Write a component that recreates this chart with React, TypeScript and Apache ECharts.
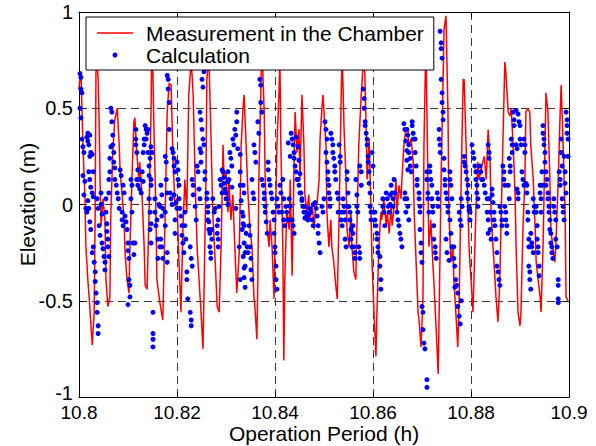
import React, { useEffect, useRef } from "react";
import * as echarts from "echarts";

const FONT = "'Liberation Sans', Arial, Helvetica, sans-serif";

const xTickLabels = ["10.8", "10.82", "10.84", "10.86", "10.88", "10.9"];
const yTickLabels = ["-1", "-0.5", "0", "0.5", "1"];

// Measurement in the Chamber: [time (h), elevation (m)]
const measA: [number, number][] = [
  [10.8000,0.60],[10.8002,0.66],[10.8004,0.69],[10.8008,0.31],[10.8012,0.05],[10.8014,-0.21],[10.8018,-0.39],[10.8022,-0.53],
  [10.8024,-0.61],[10.8027,-0.73],[10.8031,-0.56],[10.8033,-0.04],[10.8035,0.85],[10.8039,0.65],[10.8041,0.44],[10.8043,0.13],
  [10.8045,-0.11],[10.8049,0.03],[10.8053,-0.08],[10.8055,-0.39],[10.8059,-0.53],[10.8063,-0.48],[10.8065,-0.04],[10.8069,0.27],
  [10.8073,0.44],[10.8078,0.50],[10.8082,0.31],[10.8084,0.17],[10.8088,0.05],[10.8092,-0.08],[10.8094,-0.25],[10.8098,-0.39],
  [10.8102,-0.46],[10.8104,-0.22],[10.8108,0.13],[10.8112,0.43],[10.8114,0.45],[10.8118,0.27],[10.8122,0.13],[10.8124,0.22],
  [10.8129,0.03],[10.8133,-0.22],[10.8135,-0.42],[10.8139,-0.44],[10.8143,-0.04],[10.8147,0.48],[10.8149,0.92],[10.8153,0.39],
  [10.8157,-0.04],[10.8159,-0.39],[10.8165,-0.51]
];
const measB: [number, number][] = [
  [10.8171,-0.60],[10.8176,-0.04],[10.8180,0.48],[10.8184,0.63],[10.8188,0.62],[10.8192,0.22],[10.8196,-0.01],[10.8200,0.03],
  [10.8204,-0.30],[10.8208,-0.56],[10.8212,-0.13],[10.8216,0.13],[10.8220,-0.04],[10.8224,0.57],[10.8229,0.75],[10.8233,0.57],
  [10.8237,0.13],[10.8241,-0.22],[10.8245,-0.39],[10.8249,-0.56],[10.8253,-0.75],[10.8255,-0.48],[10.8259,0.13],[10.8261,0.65],
  [10.8265,0.78],[10.8269,0.39],[10.8273,-0.04],[10.8278,-0.30],[10.8282,-0.53],[10.8286,-0.56],[10.8290,-0.22],[10.8294,0.31],
  [10.8296,0.13],[10.8300,0.17],[10.8304,-0.04],[10.8306,0.13],[10.8310,-0.08],[10.8314,0.05],[10.8318,-0.22],[10.8322,-0.46],
  [10.8327,-0.25],[10.8331,0.31],[10.8335,0.51]
];
const measC: [number, number][] = [
  [10.8337,0.57],[10.8341,0.31],[10.8345,0.05],[10.8349,-0.13],[10.8353,-0.22],[10.8357,-0.48],[10.8359,-0.53],[10.8363,-0.70],
  [10.8365,-0.39],[10.8367,0.13],[10.8371,0.57],[10.8373,0.85],[10.8378,0.48],[10.8380,0.13],[10.8384,-0.13],[10.8388,-0.22],
  [10.8390,-0.08],[10.8394,-0.22],[10.8398,-0.49],[10.8400,-0.22],[10.8404,0.31],[10.8408,0.57],[10.8410,0.75],[10.8412,0.31],
  [10.8416,-0.22],[10.8418,-0.81],[10.8420,-0.39],[10.8424,-0.04],[10.8429,-0.13],[10.8431,0.13],[10.8435,-0.37],[10.8439,0.22],
  [10.8441,0.48],[10.8445,0.27],[10.8449,0.39],[10.8451,0.13],[10.8455,0.57],[10.8459,0.31],[10.8461,0.05],[10.8465,-0.04],
  [10.8469,0.05],[10.8471,-0.08],[10.8476,0.00],[10.8480,-0.13],[10.8482,-0.04],[10.8486,0.01],[10.8490,0.13],[10.8492,0.34],
  [10.8496,0.51],[10.8498,0.57],[10.8500,0.48]
];
const measD: [number, number][] = [
  [10.8504,0.31],[10.8506,-0.04],[10.8510,-0.22],[10.8514,-0.08],[10.8516,-0.22],[10.8520,-0.30],[10.8524,-0.42],[10.8527,-0.49],
  [10.8531,-0.04],[10.8535,0.55],[10.8537,0.80],[10.8541,0.39],[10.8545,0.13],[10.8547,-0.13],[10.8551,-0.22],[10.8555,-0.04],
  [10.8557,-0.22],[10.8561,-0.35],[10.8565,-0.39],[10.8567,-0.13],[10.8571,0.31],[10.8576,0.57],[10.8578,0.65],[10.8582,0.82],
  [10.8586,0.39],[10.8588,0.13],[10.8592,0.34],[10.8596,-0.04],[10.8598,-0.30],[10.8602,-0.56],[10.8606,-0.79],[10.8608,-0.56],
  [10.8612,-0.22],[10.8616,-0.04],[10.8618,-0.08],[10.8622,0.03],[10.8627,-0.11],[10.8629,-0.04],[10.8633,-0.15],[10.8637,-0.01],
  [10.8639,-0.11],[10.8643,-0.01],[10.8647,0.13],[10.8649,-0.04],[10.8653,0.10],[10.8657,0.03],[10.8659,0.13],[10.8663,0.31],
  [10.8667,0.39]
];
const measE: [number, number][] = [
  [10.8671,0.40],[10.8673,0.31],[10.8678,0.34],[10.8682,0.22],[10.8684,-0.04],[10.8688,-0.30],[10.8692,-0.56],[10.8694,-0.60],
  [10.8698,-0.74],[10.8702,-0.48],[10.8704,0.31],[10.8708,0.85],[10.8712,0.13],[10.8714,-0.22],[10.8718,-0.08],[10.8722,-0.30],
  [10.8724,-0.39],[10.8729,-0.65],[10.8733,-0.88],[10.8735,-0.56],[10.8739,0.13],[10.8743,0.65],[10.8745,0.91],[10.8749,0.98],
  [10.8753,0.48],[10.8755,-0.04],[10.8759,-0.30],[10.8763,-0.22],[10.8765,-0.39],[10.8769,-0.56],[10.8773,-0.74],[10.8776,-0.48],
  [10.8780,0.13],[10.8784,0.65],[10.8786,0.65],[10.8790,0.31],[10.8794,-0.04],[10.8796,-0.22],[10.8800,-0.39],[10.8804,-0.56],
  [10.8806,-0.39],[10.8810,-0.04],[10.8814,0.22],[10.8816,0.13],[10.8820,0.17],[10.8824,0.22],[10.8827,0.25],[10.8831,0.13],
  [10.8835,0.39]
];
const measF: [number, number][] = [
  [10.8839,0.22],[10.8841,-0.04],[10.8845,-0.22],[10.8849,-0.39],[10.8851,-0.48],[10.8855,-0.61],[10.8859,-0.39],[10.8861,-0.13],
  [10.8865,0.31],[10.8869,0.74],[10.8871,0.69],[10.8876,0.48],[10.8880,0.46],[10.8882,0.50],[10.8886,0.31],[10.8890,0.05],
  [10.8892,-0.22],[10.8896,-0.56],[10.8900,-0.63],[10.8902,-0.56],[10.8906,-0.13],[10.8910,0.13],[10.8912,0.48],[10.8916,0.50],
  [10.8920,0.48],[10.8922,0.31],[10.8927,0.13],[10.8931,-0.13],[10.8933,-0.30],[10.8937,-0.39],[10.8941,-0.48],[10.8943,-0.56],
  [10.8947,-0.22],[10.8951,0.31],[10.8953,0.58],[10.8957,0.48],[10.8961,0.13],[10.8963,-0.13],[10.8967,-0.22],[10.8971,-0.30],
  [10.8973,-0.22],[10.8978,0.13],[10.8982,0.48],[10.8984,0.62],[10.8988,0.31],[10.8992,-0.04],[10.8994,-0.48],[10.8998,-0.50]
];

// Calculation: [time (h), elevation (m)]
const calcA: [number, number][] = [
  [10.8002,0.68],[10.8004,0.66],[10.8004,0.60],[10.8006,0.58],[10.8002,0.50],[10.8004,0.45],[10.8006,0.34],[10.8008,0.30],
  [10.8010,0.27],[10.8008,0.15],[10.8010,0.05],[10.8012,0.12],[10.8014,-0.02],[10.8016,-0.04],[10.8016,0.35],[10.8018,0.37],
  [10.8018,0.33],[10.8020,0.31],[10.8022,0.36],[10.8022,0.25],[10.8024,0.27],[10.8027,0.26],[10.8020,0.17],[10.8022,0.13],
  [10.8024,0.09],[10.8018,0.02],[10.8020,-0.02],[10.8022,-0.09],[10.8024,-0.13],[10.8027,0.06],[10.8029,0.04],[10.8029,0.17],
  [10.8029,-0.22],[10.8027,-0.25],[10.8031,-0.30],[10.8033,-0.35],[10.8033,-0.40],[10.8035,-0.46],[10.8037,-0.51],[10.8037,-0.56],
  [10.8039,-0.63],[10.8039,-0.67],[10.8037,0.03],[10.8039,-0.02],[10.8041,-0.11],[10.8043,-0.16],[10.8045,0.00],[10.8047,-0.05],
  [10.8045,0.06],[10.8047,-0.20],[10.8049,-0.23],[10.8051,-0.27],[10.8053,-0.30],[10.8053,-0.34],[10.8055,0.03],[10.8055,-0.04],
  [10.8057,-0.10],[10.8057,-0.14],[10.8059,-0.18],[10.8059,-0.22],[10.8061,-0.27],[10.8061,0.06],[10.8061,0.13],[10.8063,0.17],
  [10.8063,0.24],[10.8065,0.30],[10.8065,0.50],[10.8067,0.48],[10.8067,0.43],[10.8069,0.36],[10.8069,0.31],[10.8071,0.27],
  [10.8071,0.22],[10.8073,0.19],[10.8073,0.13],[10.8076,0.10],[10.8078,0.06],[10.8080,0.03],[10.8082,-0.02],[10.8084,0.18],
  [10.8086,0.15],[10.8088,-0.04],[10.8088,-0.08],[10.8090,-0.11],[10.8090,0.10],[10.8092,0.06],[10.8094,-0.06],[10.8096,-0.09],
  [10.8098,-0.13],[10.8100,-0.20],[10.8100,-0.24],[10.8102,-0.28],[10.8102,-0.39],[10.8104,-0.42],[10.8104,-0.48],[10.8100,-0.52],
  [10.8106,0.03],[10.8108,-0.04],[10.8106,0.13],[10.8108,0.10],[10.8110,-0.20],[10.8112,-0.26],[10.8114,-0.20],[10.8116,0.34],
  [10.8116,0.31],[10.8118,0.27],[10.8116,0.39],[10.8118,0.13],[10.8120,0.10],[10.8120,0.18],[10.8124,0.13],[10.8124,0.08],
  [10.8127,0.06],[10.8129,0.17],[10.8131,0.12],[10.8131,0.27],[10.8133,0.31],[10.8133,0.34],[10.8135,0.41],[10.8137,0.39],
  [10.8139,0.37],[10.8137,0.34],[10.8141,0.39],[10.8141,0.27],[10.8143,0.20],[10.8143,0.15],[10.8145,0.24],[10.8147,0.13],
  [10.8147,0.30],[10.8149,0.27],[10.8147,0.10],[10.8143,0.03],[10.8145,-0.04],[10.8147,-0.10],[10.8145,-0.13],[10.8147,-0.20],
  [10.8151,-0.56],[10.8151,-0.67],[10.8151,-0.70],[10.8151,-0.74],[10.8155,0.03],[10.8155,-0.04],[10.8157,-0.11],[10.8159,-0.08],
  [10.8161,-0.18],[10.8161,-0.28],[10.8163,0.00],[10.8165,-0.01],[10.8165,-0.22]
];
const calcB: [number, number][] = [
  [10.8167,0.10],[10.8169,0.05],[10.8171,-0.02],[10.8167,-0.18],[10.8169,-0.22],[10.8171,-0.28],[10.8169,-0.06],[10.8176,0.25],
  [10.8178,0.22],[10.8178,0.13],[10.8180,0.06],[10.8180,0.67],[10.8182,0.65],[10.8182,0.60],[10.8184,0.53],[10.8184,0.39],
  [10.8176,-0.04],[10.8176,-0.11],[10.8180,-0.25],[10.8180,-0.30],[10.8186,0.06],[10.8188,0.03],[10.8190,0.00],[10.8190,0.29],
  [10.8192,0.27],[10.8194,0.24],[10.8194,0.20],[10.8196,0.17],[10.8194,0.05],[10.8198,0.01],[10.8200,-0.02],[10.8196,-0.08],
  [10.8196,-0.15],[10.8200,0.22],[10.8202,0.18],[10.8202,0.13],[10.8204,0.10],[10.8204,0.03],[10.8206,-0.02],[10.8208,-0.06],
  [10.8210,-0.11],[10.8210,-0.16],[10.8212,-0.20],[10.8214,-0.25],[10.8216,-0.04],[10.8216,-0.11],[10.8218,-0.18],[10.8220,-0.35],
  [10.8220,-0.39],[10.8222,-0.49],[10.8227,-0.56],[10.8229,-0.60],[10.8229,-0.63],[10.8227,-0.22],[10.8229,-0.28],[10.8231,-0.32],
  [10.8231,0.13],[10.8233,0.10],[10.8233,0.05],[10.8237,-0.01],[10.8239,-0.08],[10.8241,0.20],[10.8243,0.17],[10.8245,0.08],
  [10.8247,0.03],[10.8247,0.48],[10.8249,0.44],[10.8251,0.39],[10.8251,0.65],[10.8253,0.61],[10.8255,0.69],[10.8247,0.29],
  [10.8249,0.27],[10.8249,0.22],[10.8253,0.34],[10.8255,0.31],[10.8257,0.17],[10.8257,0.13],[10.8261,0.06],[10.8261,0.03],
  [10.8263,-0.01],[10.8263,-0.04],[10.8263,-0.08],[10.8265,-0.09],[10.8265,-0.13],[10.8267,-0.15],[10.8267,-0.22],[10.8269,-0.25],
  [10.8269,-0.28],[10.8271,-0.13],[10.8271,-0.18],[10.8273,0.03],[10.8276,-0.04],[10.8278,-0.02],[10.8282,-0.11],[10.8282,-0.15],
  [10.8284,-0.18],[10.8284,-0.22],[10.8284,-0.08],[10.8286,-0.01],[10.8288,0.13],[10.8290,0.10],[10.8292,0.06],[10.8292,0.18],
  [10.8294,0.17],[10.8296,0.11],[10.8298,0.08],[10.8300,0.03],[10.8300,0.06],[10.8302,0.03],[10.8304,0.00],[10.8304,0.17],
  [10.8306,0.13],[10.8308,0.27],[10.8310,0.24],[10.8312,0.20],[10.8314,0.34],[10.8316,0.31],[10.8318,0.39],[10.8320,0.36],
  [10.8322,0.48],[10.8322,0.43],[10.8329,0.17],[10.8329,0.10],[10.8333,-0.04],[10.8333,-0.13],[10.8327,-0.22],[10.8329,-0.39],
  [10.8296,0.14],[10.8304,0.12],[10.8312,0.09],[10.8320,-0.02],[10.8324,0.29],[10.8329,0.26],[10.8331,0.02],[10.8335,-0.10],
  [10.8335,-0.27],[10.8337,-0.33],[10.8337,-0.38],[10.8339,-0.43]
];
const calcC: [number, number][] = [
  [10.8335,0.10],[10.8337,0.06],[10.8335,-0.06],[10.8337,-0.11],[10.8337,-0.20],[10.8339,-0.25],[10.8339,-0.32],[10.8341,-0.15],
  [10.8343,-0.22],[10.8345,-0.25],[10.8347,-0.11],[10.8349,-0.16],[10.8349,-0.22],[10.8351,-0.28],[10.8351,-0.34],[10.8353,-0.39],
  [10.8353,0.13],[10.8355,0.06],[10.8357,0.03],[10.8357,0.31],[10.8359,0.27],[10.8361,0.22],[10.8365,0.43],[10.8367,0.37],
  [10.8369,0.65],[10.8371,0.62],[10.8371,0.53],[10.8373,0.48],[10.8373,0.13],[10.8376,0.10],[10.8378,0.06],[10.8378,0.03],
  [10.8380,-0.01],[10.8380,-0.04],[10.8382,-0.09],[10.8384,-0.15],[10.8386,0.22],[10.8386,0.18],[10.8388,0.13],[10.8390,0.10],
  [10.8392,0.06],[10.8394,0.03],[10.8396,-0.04],[10.8398,-0.08],[10.8398,-0.15],[10.8400,-0.22],[10.8400,-0.25],[10.8402,-0.32],
  [10.8402,-0.39],[10.8404,-0.44],[10.8404,0.03],[10.8406,-0.01],[10.8408,-0.04],[10.8410,0.10],[10.8412,0.06],[10.8414,-0.04],
  [10.8416,0.13],[10.8418,0.03],[10.8418,-0.08],[10.8420,-0.11],[10.8422,-0.01],[10.8424,-0.04],[10.8427,-0.08],[10.8429,0.03],
  [10.8431,-0.01],[10.8433,0.37],[10.8435,0.34],[10.8437,0.31],[10.8439,0.27],[10.8439,0.24],[10.8441,0.20],[10.8443,0.17],
  [10.8445,0.13],[10.8435,-0.08],[10.8437,-0.11],[10.8439,-0.15],[10.8447,0.13],[10.8449,0.10],[10.8451,0.06],[10.8453,0.06],
  [10.8455,0.03],[10.8457,-0.01],[10.8459,-0.04],[10.8461,-0.01],[10.8463,-0.04],[10.8465,-0.06],[10.8467,-0.08],[10.8471,-0.02],
  [10.8473,-0.04],[10.8476,-0.08],[10.8478,-0.11],[10.8482,0.01],[10.8484,-0.02],[10.8486,-0.06],[10.8488,-0.11],[10.8488,-0.15],
  [10.8490,-0.20],[10.8492,-0.25],[10.8496,-0.01],[10.8498,-0.04],[10.8500,0.03],[10.8427,0.32],[10.8431,0.25],[10.8443,0.35],
  [10.8447,0.30],[10.8449,0.23],[10.8451,0.16],[10.8455,0.02],[10.8461,-0.07],[10.8469,-0.05],[10.8478,0.00]
];
const calcD: [number, number][] = [
  [10.8502,0.43],[10.8504,0.39],[10.8506,0.34],[10.8504,0.27],[10.8506,0.22],[10.8508,0.17],[10.8508,0.13],[10.8510,0.10],
  [10.8510,0.06],[10.8512,0.03],[10.8512,-0.01],[10.8514,0.37],[10.8516,0.34],[10.8518,0.31],[10.8518,0.27],[10.8520,0.24],
  [10.8522,0.20],[10.8522,0.17],[10.8524,0.13],[10.8527,0.06],[10.8529,0.03],[10.8529,-0.04],[10.8531,0.31],[10.8533,0.25],
  [10.8533,0.22],[10.8535,-0.04],[10.8535,-0.08],[10.8537,-0.11],[10.8539,0.03],[10.8541,-0.01],[10.8541,-0.04],[10.8543,-0.08],
  [10.8543,-0.18],[10.8545,-0.22],[10.8547,0.17],[10.8547,0.13],[10.8549,0.06],[10.8549,-0.01],[10.8551,-0.01],[10.8553,-0.04],
  [10.8553,-0.08],[10.8555,-0.13],[10.8555,-0.18],[10.8557,-0.22],[10.8559,-0.11],[10.8559,-0.15],[10.8561,-0.22],[10.8563,-0.25],
  [10.8563,-0.28],[10.8565,0.13],[10.8567,0.05],[10.8567,-0.01],[10.8569,-0.04],[10.8571,-0.22],[10.8573,-0.25],[10.8573,-0.28],
  [10.8573,0.20],[10.8576,0.17],[10.8576,0.10],[10.8580,0.60],[10.8582,0.55],[10.8582,0.50],[10.8584,0.43],[10.8584,0.41],
  [10.8586,0.37],[10.8588,0.34],[10.8588,0.31],[10.8590,0.25],[10.8590,0.22],[10.8592,0.17],[10.8592,0.11],[10.8594,0.06],
  [10.8594,-0.01],[10.8596,-0.04],[10.8596,-0.08],[10.8598,0.27],[10.8600,0.20],[10.8604,-0.04],[10.8604,-0.08],[10.8606,-0.11],
  [10.8608,-0.15],[10.8608,-0.18],[10.8610,-0.22],[10.8610,-0.25],[10.8614,-0.27],[10.8614,-0.32],[10.8616,-0.39],[10.8616,-0.44],
  [10.8620,0.03],[10.8620,-0.01],[10.8622,-0.04],[10.8624,-0.11],[10.8627,0.06],[10.8629,0.03],[10.8631,-0.01],[10.8633,-0.04],
  [10.8635,0.05],[10.8635,0.00],[10.8637,0.10],[10.8639,0.06],[10.8641,0.03],[10.8641,-0.01],[10.8643,0.13],[10.8645,0.06],
  [10.8649,-0.04],[10.8651,-0.08],[10.8653,-0.11],[10.8655,-0.15],[10.8657,-0.18],[10.8659,-0.22],[10.8665,0.06],[10.8665,0.03],
  [10.8667,-0.04],[10.8663,0.42],[10.8665,0.39],[10.8667,0.33],[10.8669,0.28],[10.8669,0.23],[10.8671,0.18]
];
const calcE: [number, number][] = [
  [10.8669,0.39],[10.8671,0.36],[10.8673,0.31],[10.8673,0.27],[10.8676,0.24],[10.8676,0.20],[10.8678,0.17],[10.8680,0.43],
  [10.8680,0.41],[10.8682,0.37],[10.8682,0.34],[10.8686,0.34],[10.8686,0.27],[10.8688,0.20],[10.8690,0.13],[10.8690,0.10],
  [10.8694,0.06],[10.8694,0.03],[10.8696,-0.01],[10.8696,-0.04],[10.8669,0.03],[10.8671,-0.01],[10.8673,-0.08],[10.8696,-0.13],
  [10.8698,-0.20],[10.8698,-0.25],[10.8700,-0.30],[10.8700,-0.53],[10.8702,-0.56],[10.8702,-0.65],[10.8704,-0.72],[10.8706,-0.75],
  [10.8710,-0.91],[10.8710,-0.95],[10.8710,0.17],[10.8710,0.13],[10.8712,0.06],[10.8712,0.03],[10.8714,-0.04],[10.8716,0.20],
  [10.8716,0.17],[10.8718,0.13],[10.8720,0.10],[10.8720,0.03],[10.8722,-0.01],[10.8722,-0.04],[10.8724,-0.11],[10.8724,-0.18],
  [10.8727,-0.22],[10.8727,-0.25],[10.8729,-0.28],[10.8731,0.06],[10.8733,0.03],[10.8733,-0.01],[10.8737,0.90],[10.8739,0.84],
  [10.8739,0.81],[10.8741,0.76],[10.8739,0.65],[10.8741,0.58],[10.8741,0.53],[10.8743,0.48],[10.8743,0.44],[10.8735,0.39],
  [10.8735,0.34],[10.8737,0.31],[10.8737,0.27],[10.8745,0.24],[10.8745,0.18],[10.8747,0.13],[10.8747,0.10],[10.8749,0.06],
  [10.8751,0.03],[10.8753,-0.01],[10.8753,-0.04],[10.8757,0.17],[10.8757,0.13],[10.8759,0.10],[10.8761,0.03],[10.8757,-0.08],
  [10.8759,-0.15],[10.8761,-0.22],[10.8765,-0.22],[10.8765,-0.28],[10.8767,-0.32],[10.8769,-0.39],[10.8771,-0.42],[10.8773,-0.46],
  [10.8773,-0.53],[10.8767,-0.43],[10.8776,-0.58],[10.8778,-0.62],[10.8780,-0.50],[10.8776,-0.04],[10.8778,-0.08],[10.8780,-0.11],
  [10.8780,0.03],[10.8782,-0.01],[10.8786,0.25],[10.8786,0.22],[10.8788,0.20],[10.8790,0.17],[10.8792,0.13],[10.8794,0.10],
  [10.8792,0.06],[10.8794,0.03],[10.8796,-0.01],[10.8796,-0.03],[10.8798,-0.04],[10.8798,-0.08],[10.8802,0.31],[10.8804,0.27],
  [10.8806,0.24],[10.8808,0.20],[10.8810,0.17],[10.8810,0.13],[10.8812,0.10],[10.8812,0.06],[10.8814,0.03],[10.8814,-0.01],
  [10.8818,0.20],[10.8820,0.17],[10.8822,0.13],[10.8824,0.13],[10.8827,0.10],[10.8829,0.06],[10.8833,0.03],[10.8833,-0.04],
  [10.8835,-0.08],[10.8835,-0.15],[10.8749,-0.18],[10.8751,-0.25],[10.8755,-0.29]
];
const calcF: [number, number][] = [
  [10.8835,0.31],[10.8837,0.27],[10.8837,0.24],[10.8837,0.03],[10.8839,-0.04],[10.8839,-0.13],[10.8841,-0.18],[10.8843,0.08],
  [10.8843,0.05],[10.8845,0.01],[10.8847,-0.04],[10.8847,-0.08],[10.8849,-0.11],[10.8851,-0.18],[10.8853,-0.25],[10.8853,-0.32],
  [10.8855,-0.35],[10.8857,-0.39],[10.8859,-0.42],[10.8859,-0.01],[10.8861,-0.04],[10.8863,-0.08],[10.8863,-0.11],[10.8865,0.20],
  [10.8867,0.17],[10.8867,0.13],[10.8869,0.10],[10.8869,-0.01],[10.8871,-0.04],[10.8871,-0.08],[10.8873,-0.11],[10.8873,-0.15],
  [10.8876,0.10],[10.8878,0.03],[10.8878,0.24],[10.8880,0.20],[10.8880,0.17],[10.8882,0.34],[10.8884,0.31],[10.8884,0.27],
  [10.8886,0.48],[10.8888,0.44],[10.8888,0.41],[10.8892,0.31],[10.8894,0.29],[10.8894,0.08],[10.8896,0.06],[10.8896,0.03],
  [10.8892,0.49],[10.8896,0.47],[10.8898,0.43],[10.8900,0.41],[10.8900,0.34],[10.8902,0.31],[10.8904,0.17],[10.8906,0.13],
  [10.8908,0.10],[10.8908,0.34],[10.8910,0.31],[10.8910,0.27],[10.8912,0.11],[10.8914,0.10],[10.8914,0.06],[10.8916,-0.04],
  [10.8916,-0.08],[10.8918,-0.18],[10.8918,-0.22],[10.8918,-0.32],[10.8920,-0.35],[10.8920,-0.39],[10.8922,-0.44],[10.8922,-0.15],
  [10.8924,-0.20],[10.8924,-0.22],[10.8927,-0.25],[10.8927,0.03],[10.8929,-0.01],[10.8929,-0.04],[10.8933,-0.01],[10.8933,-0.04],
  [10.8935,-0.11],[10.8935,-0.18],[10.8937,-0.22],[10.8937,-0.25],[10.8939,-0.32],[10.8939,-0.37],[10.8941,0.10],[10.8941,0.06],
  [10.8943,0.03],[10.8943,-0.04],[10.8945,0.17],[10.8945,0.10],[10.8947,0.41],[10.8947,0.37],[10.8949,0.34],[10.8949,0.31],
  [10.8951,0.27],[10.8951,0.22],[10.8953,0.17],[10.8953,0.10],[10.8955,0.13],[10.8957,0.06],[10.8957,0.03],[10.8959,-0.01],
  [10.8959,-0.04],[10.8961,-0.08],[10.8961,-0.13],[10.8963,-0.15],[10.8963,-0.20],[10.8965,-0.22],[10.8965,-0.25],[10.8967,-0.28],
  [10.8969,0.03],[10.8969,-0.01],[10.8971,-0.04],[10.8973,-0.08],[10.8973,-0.18],[10.8976,-0.22],[10.8978,-0.39],[10.8978,-0.42],
  [10.8978,-0.49],[10.8978,-0.51],[10.8980,0.17],[10.8982,0.13],[10.8982,0.10],[10.8984,0.34],[10.8984,0.27],[10.8986,0.20],
  [10.8986,0.03],[10.8988,-0.01],[10.8988,-0.04],[10.8990,-0.08],[10.8990,0.25],[10.8992,0.17],[10.8992,0.11],[10.8994,0.06],
  [10.8994,0.48],[10.8996,0.44],[10.8996,0.37],[10.8998,0.34],[10.8996,0.41],[10.8998,0.25]
];

const measurement = [...measA, ...measB, ...measC, ...measD, ...measE, ...measF];
const calculation = [...calcA, ...calcB, ...calcC, ...calcD, ...calcE, ...calcF];

export default function App() {
  const ref = useRef<HTMLDivElement>(null);

  useEffect(() => {
    document.body.style.margin = "0";
    if (!ref.current) return;
    const chart = echarts.init(ref.current, undefined, { renderer: "svg" });
    const gridLine = { show: true, lineStyle: { color: "#3a3a3a", width: 1, type: [8, 5] as any } };
    const frame = { show: true, onZero: false, lineStyle: { color: "#000", width: 1 } };
    const tick = { show: true, inside: true, length: 5, lineStyle: { color: "#000", width: 1 } };
    const xFmt = (v: number) => {
      const i = Math.round((v - 10.8) / 0.02);
      return xTickLabels[i] ?? String(v);
    };
    const yFmt = (v: number) => {
      const i = Math.round((v + 1) / 0.5);
      const s = yTickLabels[i] ?? String(v);
      return i === 0 ? "{low|" + s + "}" : s;
    };
    chart.setOption({
      animation: false,
      backgroundColor: "#fff",
      grid: { left: 79, right: 27, top: 12, bottom: 49, containLabel: false, outerBoundsMode: "none" },
      legend: {
        orient: "vertical",
        left: 86,
        top: 17,
        backgroundColor: "#fff",
        borderColor: "#000",
        borderWidth: 1,
        borderRadius: 0,
        padding: [5, 10, 4, 11],
        itemWidth: 36,
        itemHeight: 5,
        itemGap: 0,
        textStyle: { color: "#000", fontFamily: FONT, fontSize: 21, lineHeight: 22, padding: [0, 0, 0, 8] },
        data: [
          { name: "Measurement in the Chamber", icon: "path://M0 0H36V1.4H0Z", itemStyle: { color: "#ff0000" } },
          { name: "Calculation", icon: "circle" },
        ],
      },
      xAxis: [
        {
          type: "value",
          min: 10.8,
          max: 10.9,
          interval: 0.02,
          position: "bottom",
          name: "Operation Period (h)",
          nameLocation: "middle",
          nameGap: 26,
          nameMoveOverlap: false,
          nameTextStyle: { color: "#000", fontFamily: FONT, fontSize: 21, lineHeight: 21 },
          axisLine: frame,
          axisTick: tick,
          axisLabel: { color: "#000", fontFamily: FONT, fontSize: 19, lineHeight: 18, margin: 6, formatter: xFmt },
          splitLine: gridLine,
        },
        {
          type: "value",
          min: 10.8,
          max: 10.9,
          interval: 0.02,
          position: "top",
          axisLine: frame,
          axisTick: tick,
          axisLabel: { show: false },
          splitLine: { show: false },
        },
      ],
      yAxis: [
        {
          type: "value",
          min: -1,
          max: 1,
          interval: 0.5,
          position: "left",
          name: "Elevation (m)",
          nameLocation: "middle",
          nameGap: 41,
          nameMoveOverlap: false,
          nameTextStyle: { color: "#000", fontFamily: FONT, fontSize: 21, lineHeight: 22 },
          axisLine: frame,
          axisTick: tick,
          axisLabel: {
            color: "#000",
            fontFamily: FONT,
            fontSize: 20,
            lineHeight: 14,
            margin: 6,
            formatter: yFmt,
            rich: {
              low: { color: "#000", fontFamily: FONT, fontSize: 20, lineHeight: 14, padding: [0, 0, 8, 0] },
            },
          },
          splitLine: gridLine,
        },
        {
          type: "value",
          min: -1,
          max: 1,
          interval: 0.5,
          position: "right",
          axisLine: frame,
          axisTick: tick,
          axisLabel: { show: false },
          splitLine: { show: false },
        },
      ],
      series: [
        {
          name: "Measurement in the Chamber",
          type: "line",
          data: measurement,
          symbol: "none",
          showSymbol: false,
          color: "#ff0000",
          lineStyle: { color: "#ff0000", width: 1.5 },
          z: 2,
        },
        {
          name: "Calculation",
          type: "scatter",
          data: calculation,
          symbol: "circle",
          symbolSize: 5,
          color: "#0000ff",
          itemStyle: { color: "#0000ff", opacity: 1 },
          z: 3,
        },
      ],
    });
    return () => chart.dispose();
  }, []);

  return (
    <div
      ref={ref}
      style={{ position: "fixed", left: 0, top: 0, width: 596, height: 446, background: "#fff" }}
    />
  );
}
